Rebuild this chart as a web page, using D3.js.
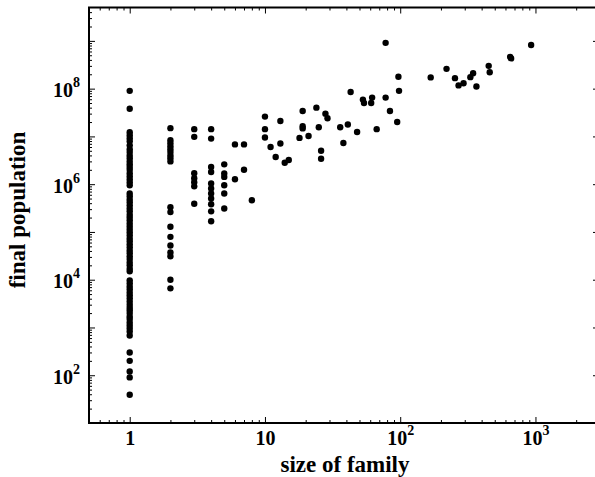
<!DOCTYPE html>
<html>
<head>
<meta charset="utf-8">
<script src="https://cdn.jsdelivr.net/npm/d3@7"></script>
<style>
  body { margin: 0; background: white; }
  svg { display: block; }
  text { font-family: 'Liberation Serif', 'Times New Roman', serif; font-weight: bold; fill: black; }
</style>
</head>
<body>
<script>
// final population of families of size 1..8 (one column each)
const popSize1 = [9.0e7, 3.8e7, 1.22e7, 1.06e7, 9.2e6, 7.9e6, 6.5e6, 5.4e6, 4.7e6, 4.0e6, 3.5e6, 3.0e6, 2.6e6, 2.3e6, 2.0e6, 1.7e6, 1.47e6, 1.27e6, 1.1e6, 9.5e5,
    6.4e5, 5.6e5, 4.8e5, 4.2e5, 3.6e5, 3.1e5, 2.7e5, 2.3e5, 2.0e5, 1.75e5, 1.5e5, 1.3e5, 1.13e5, 9.8e4, 8.5e4, 7.3e4, 6.4e4, 5.5e4, 4.8e4, 4.1e4,
    3.6e4, 3.1e4, 2.7e4, 2.3e4, 2.0e4, 1.7e4, 1.5e4, 9.7e3, 8.4e3, 7.2e3, 6.3e3, 5.4e3, 4.7e3, 4.1e3, 3.5e3, 3.0e3, 2.6e3, 2.3e3, 2.0e3, 1.7e3,
    1.5e3, 1.27e3, 1.1e3, 950, 820, 680, 300, 200, 120, 90, 39]
const popSize2 = [1.49e7, 8.3e6, 7.2e6, 6.2e6, 5.4e6, 4.7e6, 4.0e6, 3.5e6, 3.0e6, 3.3e5, 2.6e5, 1.28e5, 7.9e4, 5.2e4, 3.7e4, 3.1e4, 1.0e4, 6.6e3]
const popSize3 = [1.42e7, 9.8e6, 1.7e6, 1.33e6, 1.1e6, 9.0e5, 3.9e5]
const popSize4 = [1.42e7, 9.0e6, 2.3e6, 1.8e6, 1.03e6, 8.1e5, 6.4e5, 5.0e5, 3.8e5, 2.7e5, 1.67e5]
const popSize5 = [2.6e6, 1.67e6, 1.42e6, 9.5e5, 6.4e5, 3.1e5]
const popSize6 = [6.8e6, 1.27e6]
const popSize7 = [6.8e6, 2.0e6]
const popSize8 = [4.6e5]

// larger families: size and final population
const bigSizes = [10, 10, 10, 11, 12, 13, 13, 14, 15, 18, 19, 19, 19, 21, 24, 25, 26, 26, 28, 29, 36, 38, 41, 43, 48, 53, 54, 61, 62, 67,
    78, 78, 84, 95, 97, 98, 168, 220, 254, 270, 294, 330, 346, 366, 451, 459, 650, 661, 929]
const bigPops = [2.6e7, 1.42e7, 9.5e6, 6.0e6, 3.7e6, 2.1e7, 7.1e6, 2.8e6, 3.2e6, 9.3e6, 3.4e7, 1.64e7, 1.47e7, 1.02e7, 4.0e7, 1.56e7, 5.0e6, 3.4e6, 3.0e7, 2.4e7,
    1.56e7, 7.3e6, 1.77e7, 8.5e7, 1.24e7, 5.9e7, 5.0e7, 5.0e7, 6.5e7, 1.42e7, 9.1e8, 6.5e7, 3.4e7, 2.0e7, 1.77e8, 9.0e7, 1.72e8, 2.6e8, 1.66e8, 1.17e8,
    1.3e8, 1.74e8, 2.1e8, 1.11e8, 3.0e8, 2.2e8, 4.6e8, 4.3e8, 8.2e8]

// tick labels
const xTicks = [1, 10, 100, 1000]
const xTickLabels = [['1', ''], ['10', ''], ['10', '2'], ['10', '3']]
const yTicks = [1e2, 1e4, 1e6, 1e8]
const yTickLabels = [['10', '2'], ['10', '4'], ['10', '6'], ['10', '8']]
const yDecades = [1e1, 1e2, 1e3, 1e4, 1e5, 1e6, 1e7, 1e8, 1e9]

const width = 595
const height = 477
const plotLeft = 89
const plotRight = 598
const plotTop = 7.5
const plotBottom = 423

const points = []
const columns = [popSize1, popSize2, popSize3, popSize4, popSize5, popSize6, popSize7, popSize8]
columns.forEach((col, i) => col.forEach((p) => points.push({ size: i + 1, pop: p })))
bigSizes.forEach((s, i) => points.push({ size: s, pop: bigPops[i] }))

const svg = d3.select('body').append('svg').attr('width', width).attr('height', height)

const xScale = d3.scaleLog().domain([0.5, 2900]).range([plotLeft, plotRight])
const yScale = d3.scaleLog().domain([10, 5e9]).range([plotBottom, plotTop])

const minorsFor = (lo, hi) => {
    const out = []
    for (let e = -1; e <= 9; e++) {
        for (let m = 2; m <= 9; m++) {
            const v = m * Math.pow(10, e)
            if (v > lo && v < hi) out.push(v)
        }
    }
    return out
}
const xMinors = minorsFor(0.5, 2900)
const yMinors = minorsFor(10, 5e9)

const supLabels = (sel, labels, sup) => {
    sel.selectAll('.tick text').each(function (d, i) {
        const t = d3.select(this).text(null)
        t.append('tspan').text(labels[i][0])
        if (labels[i][1]) t.append('tspan').attr('dy', sup).attr('font-size', 14).text(labels[i][1])
    })
}

const styleAxis = (g) => {
    g.select('.domain').remove()
    g.selectAll('.tick line').attr('stroke', 'black').attr('stroke-width', 1)
}

// bottom axis
const xAxisG = svg.append('g').attr('transform', `translate(0,${plotBottom})`)
    .call(d3.axisBottom(xScale).tickValues(xTicks).tickSizeInner(-6).tickSizeOuter(0).tickPadding(8))
    .call(styleAxis)
xAxisG.attr('font-size', null).attr('font-family', null)
xAxisG.selectAll('.tick text').attr('font-size', 20)
supLabels(xAxisG, xTickLabels, -10)
svg.append('g').attr('transform', `translate(0,${plotBottom})`)
    .call(d3.axisBottom(xScale).tickValues(xMinors).tickSizeInner(-3).tickSizeOuter(0).tickFormat(''))
    .call(styleAxis)

// top axis
svg.append('g').attr('transform', `translate(0,${plotTop})`)
    .call(d3.axisTop(xScale).tickValues(xTicks).tickSizeInner(-6).tickSizeOuter(0).tickFormat(''))
    .call(styleAxis)
svg.append('g').attr('transform', `translate(0,${plotTop})`)
    .call(d3.axisTop(xScale).tickValues(xMinors).tickSizeInner(-3).tickSizeOuter(0).tickFormat(''))
    .call(styleAxis)

// left axis
svg.append('g').attr('transform', `translate(${plotLeft},0)`)
    .call(d3.axisLeft(yScale).tickValues(yDecades).tickSizeInner(-6).tickSizeOuter(0).tickFormat(''))
    .call(styleAxis)
const yAxisG = svg.append('g').attr('transform', `translate(${plotLeft},0)`)
    .call(d3.axisLeft(yScale).tickValues(yTicks).tickSizeInner(0).tickSizeOuter(0).tickPadding(9))
    .call(styleAxis)
yAxisG.attr('font-size', null).attr('font-family', null)
yAxisG.selectAll('.tick text').attr('font-size', 20).attr('dy', '0.4em')
supLabels(yAxisG, yTickLabels, -10)
svg.append('g').attr('transform', `translate(${plotLeft},0)`)
    .call(d3.axisLeft(yScale).tickValues(yMinors).tickSizeInner(-3).tickSizeOuter(0).tickFormat(''))
    .call(styleAxis)

// right axis, majors only
svg.append('g').attr('transform', `translate(${plotRight},0)`)
    .call(d3.axisRight(yScale).tickValues(yDecades).tickSizeInner(-5).tickSizeOuter(0).tickFormat(''))
    .call(styleAxis)

// frame
svg.append('rect').attr('x', plotLeft).attr('y', plotTop).attr('width', plotRight - plotLeft).attr('height', plotBottom - plotTop)
    .attr('fill', 'none').attr('stroke', 'black').attr('stroke-width', 2)

svg.append('g').selectAll('circle').data(points).enter().append('circle')
    .attr('cx', (d) => xScale(d.size))
    .attr('cy', (d) => yScale(d.pop))
    .attr('r', 3.2)
    .attr('fill', 'black')

svg.append('text').attr('x', 345).attr('y', 471.5).attr('text-anchor', 'middle').attr('font-size', 23).text('size of family')
svg.append('text').attr('transform', 'translate(25,210) rotate(-90)').attr('text-anchor', 'middle').attr('font-size', 23).text('final population')
</script>
</body>
</html>
